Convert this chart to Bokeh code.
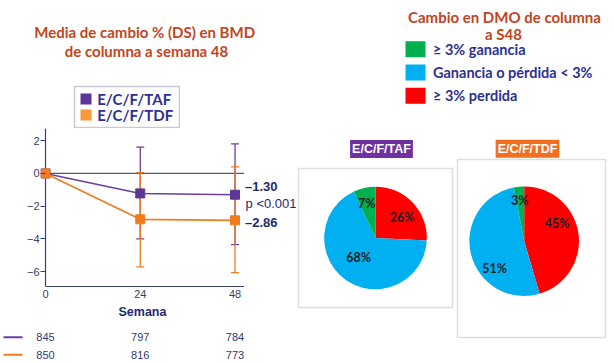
import math
from bokeh.plotting import figure
from bokeh.models import Range1d, FixedTicker, Span, Label, ColumnDataSource, Spacer
from bokeh.layouts import row, column
from bokeh.embed import file_html
from bokeh.resources import INLINE
from bokeh.core.properties import value

# ---------------- data ----------------
weeks = [0, 24, 48]
taf_mean = [0.0, -1.22, -1.30]
taf_upper = [0.0, 1.6, 1.8]
taf_lower = [0.0, -4.0, -4.35]
tdf_mean = [0.0, -2.80, -2.86]
tdf_upper = [0.0, 0.05, 0.4]
tdf_lower = [0.0, -5.7, -6.05]
taf_n = [845, 797, 784]
tdf_n = [850, 816, 773]
y_ticks = [2, 0, -2, -4, -6]
series_names = ["E/C/F/TAF", "E/C/F/TDF"]
p_value_text = "p <0.001"
x_title = "Semana"
left_title = ["Media de cambio %  (DS) en BMD", "de columna a semana 48"]

# pie categories, clockwise from 12 o'clock
pie_categories = ["\u2265 3% perdida", "Ganancia o pérdida < 3%", "\u2265 3% ganancia"]
taf_pct = [26, 68, 7]
tdf_pct = [45, 51, 3]
right_title = ["Cambio en DMO de columna", "a S48"]

# ---------------- styles ----------------
PURPLE = "#6A3FA0"
PURPLE_M = "#5C3796"
ORANGE = "#F07C1E"
ORANGE_L = "#F7983A"
NAVY = "#2D318F"
DARKNAVY = "#1F2A6E"
AXIS = "#3A3F6E"
TICK = "#394070"
RUST = "#C2451D"
PIE_COLORS = ["#FF0000", "#00B0F0", "#00B050"]
SANS = "Liberation Sans"
CAL = "Lato"
COMMON = dict(toolbar_location=None, output_backend="svg", border_fill_color="white",
              background_fill_color="white")


def blank(width, height, xr=(0, 1), yr=(0, 1), **kw):
    opts = dict(min_border=0)
    opts.update(kw)
    f = figure(width=width, height=height, x_range=Range1d(*xr), y_range=Range1d(*yr),
               x_axis_location=None, y_axis_location=None, **opts, **COMMON)
    f.outline_line_color = None
    f.grid.visible = False
    return f


def lab(fig, x, y, text, **kw):
    opts = dict(x_units="screen", y_units="screen", text_align="center",
                text_baseline="middle")
    opts.update(kw)
    fig.add_layout(Label(x=x, y=y, text=text, **opts))


# ---------------- left column ----------------
LW = 297

# title
p_title = blank(LW, 85)
for txt, cy in zip(left_title, [31.7, 50.0]):
    lab(p_title, 146, 85 - cy, txt, text_font=CAL, text_font_style="bold",
        text_font_size="15px", text_color=RUST)

# legend box
p_leg = blank(107, 43, xr=(-11.5, 93.5), yr=(-0.78125, 1.78125), min_border=1)
p_leg.outline_line_color = "#C9C9D6"
p_leg.outline_line_width = 1.5
lsrc = ColumnDataSource(dict(name=series_names, y=list(range(len(series_names)))[::-1],
                             color=[PURPLE_M, ORANGE_L], x=[0] * len(series_names)))
p_leg.rect(x="x", y="y", width=11, height=11, width_units="screen", height_units="screen",
           fill_color="color", line_color=None, source=lsrc)
p_leg.text(x="x", y="y", text="name", x_offset=11.2, text_baseline="middle",
           text_font=value(CAL), text_font_style="bold", text_font_size="15px",
           text_color=NAVY, source=lsrc)
leg_row = row(Spacer(width=73, height=43), p_leg, Spacer(width=LW - 73 - 107, height=43))

# chart
CH, CFH, CBB = 194, 158, 36
XMAX = 50.4
p = figure(width=244, height=CH, x_range=Range1d(-1.27, XMAX), y_range=Range1d(-6.9, 2.74),
           min_border_left=40, min_border_right=0, min_border_top=0, min_border_bottom=CBB,
           **COMMON)
p.outline_line_color = None
p.grid.visible = False

p.yaxis.ticker = FixedTicker(ticks=y_ticks)
p.yaxis.axis_line_color = None
p.yaxis.major_tick_out = 0
p.yaxis.major_tick_in = 5
p.yaxis.major_label_standoff = 1
p.xaxis.ticker = FixedTicker(ticks=weeks)
p.xaxis.bounds = (weeks[0], XMAX)
p.xaxis.axis_line_color = AXIS
p.xaxis.axis_line_width = 1.2
p.xaxis.major_tick_out = 0
p.xaxis.major_tick_in = 0
p.xaxis.major_label_standoff = 3
p.xaxis.axis_label = x_title
p.xaxis.axis_label_standoff = 4
p.xaxis.axis_label_text_font = SANS
p.xaxis.axis_label_text_font_style = "bold"
p.xaxis.axis_label_text_font_size = "12.5px"
p.xaxis.axis_label_text_color = DARKNAVY
for ax in (p.xaxis, p.yaxis):
    ax.minor_tick_line_color = None
    ax.major_tick_line_color = AXIS
    ax.major_tick_line_width = 1.2
    ax.major_label_text_font = SANS
    ax.major_label_text_font_size = "11px"
    ax.major_label_text_color = TICK

p.add_layout(Span(location=weeks[0], dimension="height", line_color=AXIS, line_width=1.2,
                  level="underlay"))
p.ray(x=[weeks[0]], y=[0], length=0, angle=0, line_color="#5B4E9C", line_width=1.2)


def errbars(up, lo, col):
    idx = [i for i in range(len(weeks)) if up[i] != lo[i]]
    src = ColumnDataSource(dict(x=[weeks[i] for i in idx], up=[up[i] for i in idx],
                                lo=[lo[i] for i in idx]))
    p.segment(x0="x", y0="lo", x1="x", y1="up", source=src, line_color=col, line_width=1.3)
    p.scatter(x="x", y="up", marker="dash", size=8, line_color=col, line_width=1.3, source=src)
    p.scatter(x="x", y="lo", marker="dash", size=8, line_color=col, line_width=1.3, source=src)


errbars(taf_upper, taf_lower, PURPLE)
errbars(tdf_upper, tdf_lower, ORANGE)

p.line(weeks, taf_mean, line_color=PURPLE, line_width=1.5)
p.rect(weeks, taf_mean, width=9, height=9, width_units="screen", height_units="screen",
       fill_color=PURPLE_M, line_color=PURPLE_M)
p.line(weeks, tdf_mean, line_color=ORANGE, line_width=1.7)
p.rect(weeks, tdf_mean, width=9, height=9, width_units="screen", height_units="screen",
       fill_color=ORANGE, line_color=ORANGE)

# values at the right of the chart
p_vals = figure(width=LW - 244, height=CH, x_range=Range1d(0, 1), y_range=p.y_range,
                min_border_left=0, min_border_right=0, min_border_top=0,
                min_border_bottom=CBB, x_axis_location=None, y_axis_location=None, **COMMON)
p_vals.outline_line_color = None
p_vals.grid.visible = False
for v, off in [(taf_mean[-1], 8), (tdf_mean[-1], -2.7)]:
    p_vals.add_layout(Label(x=0.5, x_units="screen", y=v, y_offset=off,
                            text="\u2013%.2f" % abs(v), text_baseline="middle",
                            text_font=SANS, text_font_style="bold", text_font_size="13px",
                            text_color=DARKNAVY))
lab(p_vals, LW - 244 - 1, CFH - (203.3 - 128), p_value_text, text_align="right",
    text_font=SANS, text_font_size="13px", text_color=DARKNAVY)

chart_row = row(p, p_vals)

# n table
K = 204 / (XMAX + 1.27)
TH, TTOP, TFH = 41, 6, 35
x0 = -45 / K
p_tab = blank(LW, TH, xr=(x0, (LW - 45) / K), yr=(-0.5, 1.5),
              min_border_top=TTOP, min_border_bottom=TH - TTOP - TFH)
rows_y = list(range(len(series_names)))[::-1]
for nvals, ry in zip([taf_n, tdf_n], rows_y):
    p_tab.text(x=weeks, y=[ry] * len(weeks), text=[str(n) for n in nvals],
               text_align="center", text_baseline="middle", text_font=value(SANS),
               text_font_size="11px", text_color="#2F3B6B")
p_tab.rect(x=[x0 + 12.5 / K] * 2, y=rows_y, width=19, height=2, width_units="screen",
           height_units="screen", fill_color=[PURPLE, ORANGE], line_color=None)

left_col = column(p_title, leg_row, chart_row, p_tab)

# ---------------- right column ----------------
RW = 614 - LW
HH = 128
SW = 118  # swatch centre
p_head = blank(RW, HH, xr=(-SW, RW - SW), yr=(1 - 56 / 23.2, 1 + 72 / 23.2))
hsrc = ColumnDataSource(dict(cat=pie_categories, color=PIE_COLORS,
                             y=list(range(len(pie_categories))), x=[0] * 3))
p_head.rect(x="x", y="y", width=20, height=16, width_units="screen", height_units="screen",
            fill_color="color", line_color=None, source=hsrc)
p_head.text(x="x", y="y", text="cat", x_offset=17.5, text_baseline="middle",
            text_font=value(CAL), text_font_style="bold", text_font_size="14.5px",
            text_color=NAVY, source=hsrc)
for txt, cx, cy in [(right_title[0], 207, 16.7), (right_title[1], 206, 33.5)]:
    lab(p_head, cx, HH - cy, txt, text_font=CAL, text_font_style="bold",
        text_font_size="15px", text_color=RUST)

# pies
LABEL_XY = {
    "taf": [(0.52, 0.40), (-0.33, -0.385), (-0.17, 0.67)],
    "tdf": [(0.60, 0.32), (-0.54, -0.49), (-0.08, 0.74)],
}


def pie_fig(pcts, key, width, height, bl, fw, fh, xr, yr):
    f = figure(width=width, height=height, x_range=Range1d(*xr), y_range=Range1d(*yr),
               min_border_left=bl, min_border_right=width - bl - fw, min_border_top=1,
               min_border_bottom=height - 1 - fh, x_axis_location=None,
               y_axis_location=None, **COMMON)
    f.grid.visible = False
    f.outline_line_color = "#DEDEDE"
    f.outline_line_width = 1.5
    tot = float(sum(pcts))
    cum = [0.0]
    for v in pcts:
        cum.append(cum[-1] + v)
    starts = [math.pi / 2 - 2 * math.pi * c / tot for c in cum[:-1]]
    ends = [math.pi / 2 - 2 * math.pi * c / tot for c in cum[1:]]
    src = ColumnDataSource(dict(start=starts, end=ends, color=PIE_COLORS))
    f.wedge(x=0, y=0, radius=1, start_angle="start", end_angle="end", direction="clock",
            fill_color="color", line_color=None, source=src)
    lx = [xy[0] for xy in LABEL_XY[key]]
    ly = [xy[1] for xy in LABEL_XY[key]]
    f.text(x=lx, y=ly, text=["%d%%" % v for v in pcts], text_align="center",
           text_baseline="middle", text_font=value(CAL), text_font_style="bold",
           text_font_size="12.5px", text_color="#222222")
    return f


def pie_title(width, height, cx, cy, text, color):
    f = blank(width, height)
    lab(f, cx, cy, text, text_font=SANS, text_font_style="bold", text_font_size="12.5px",
        text_color="white", background_fill_color=color, padding=2)
    return f


# pie 1: outline x 298..452, y 168..307, radius 51.3
pt1 = pie_title(157, 39, 380 - 297, 167 - 148.5, series_names[0], "#7030A0")
pp1 = pie_fig(taf_pct, "taf", 157, 196, 1, 154, 139,
              (-1.5, 1.5), (-139 / 51.33 / 2, 139 / 51.33 / 2))
# pie 2: outline x 457..605, y 159..337, radius 54.8
R2 = 54.8
pt2 = pie_title(160, 30, 524 - 454, 158 - 148.3, series_names[1], "#F07020")
pp2 = pie_fig(tdf_pct, "tdf", 160, 205, 3, 148, 178,
              (-66.7 / R2, 81.3 / R2), (-96.3 / R2, 81.7 / R2))

right_col = column(p_head, row(column(pt1, pp1), column(pt2, pp2)))

layout = row(left_col, right_col)
open("out.html", "w").write(file_html(layout, INLINE))
